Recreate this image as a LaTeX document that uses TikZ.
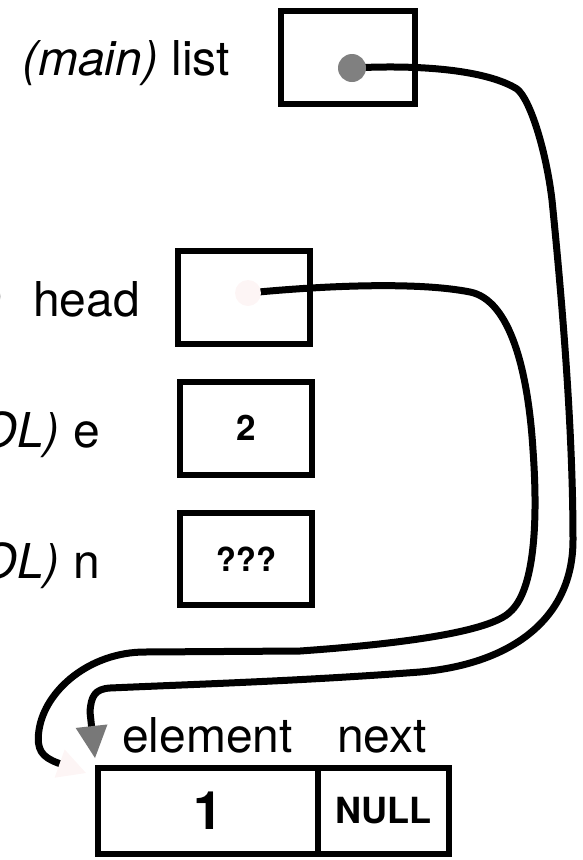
\documentclass[tikz,border=0pt]{standalone}
\usepackage{fontspec}
\setmainfont{TeX Gyre Heros}
\usetikzlibrary{arrows.meta}
\definecolor{dotgray}{gray}{0.5}
\definecolor{tipgray}{gray}{0.47}
\definecolor{faint}{RGB}{253,245,245}
\begin{document}
\begin{tikzpicture}[x=1pt,y=-1pt,
  cell/.style={draw=black,line width=6pt,inner sep=0pt,minimum height=93pt},
  lbl/.style={font=\fontsize{48}{56}\selectfont,inner sep=0pt,anchor=base east},
  fieldlbl/.style={font=\fontsize{48}{56}\selectfont,inner sep=0pt,anchor=base west},
  ptr/.style={line width=7pt,line cap=round,line join=round},
  val/.style={font=\bfseries\fontsize{35}{40}\selectfont},
  dotmark/.style={circle,inner sep=0pt,draw=none}]
\useasboundingbox (0,0) rectangle (582,860);
\coordinate (ldot) at (352,68);
\coordinate (hdot) at (248,293);
\coordinate (etip) at (95,758);
\coordinate (hend) at (86,773);
% list pointer
\draw[ptr,-{Triangle[width=32pt,length=32pt,line width=0pt,color=tipgray]}]
  (ldot) .. controls (430,64) and (490,72) .. (517,89)
  .. controls (530,99) and (546,150) .. (552,200)
  .. controls (560,280) and (573,420) .. (573,540)
  .. controls (573,620) and (510,664) .. (420,672)
  .. controls (300,681) and (200,684) .. (110,688)
  .. controls (95,689) and (91,696) .. (90,712)
  -- (etip);
% head pointer
\draw[ptr,-{Triangle[width=30pt,length=28pt,line width=0pt,color=faint]}]
  (hdot) .. controls (330,285) and (420,282) .. (470,292)
  .. controls (510,300) and (528,370) .. (533,450)
  .. controls (538,520) and (535,590) .. (510,612)
  .. controls (490,632) and (400,644) .. (300,651)
  -- (145,652)
  .. controls (90,652) and (45,690) .. (39,730)
  .. controls (36,750) and (42,757) .. (58,763)
  -- (hend);
\node[dotmark,fill=dotgray,minimum size=28pt] (ldotmark) at (ldot) {};
\node[dotmark,fill=faint,minimum size=26pt] (hdotmark) at (hdot) {};
% boxes
\node[cell,minimum width=134pt] (listbox) at (348,57.5) {};
\node[cell,minimum width=132pt] (headbox) at (244,297.5) {};
\node[cell,minimum width=132pt,val] (ebox) at (246,428) {2};
\node[cell,minimum width=132pt,minimum height=92pt,font=\bfseries\fontsize{33}{38}\selectfont] (nbox) at (246,559) {???};
\node[cell,minimum width=220pt,minimum height=86pt,font=\bfseries\fontsize{53}{60}\selectfont] (elem) at (208,811) {1};
\node[cell,minimum width=131pt,minimum height=86pt,font=\bfseries\fontsize{36}{42}\selectfont] (nextcell) at (383.5,811) {NULL};
% labels
\node[lbl] (mainlbl) at (230,75) {\textit{(main)} list};
\node[lbl] (headlbl) at (140,316) {\llap{\textit{)}\hspace{30pt}}head};
\node[lbl] (elbl) at (100,447) {\textit{OL)} e};
\node[lbl] (nlbl) at (100,578) {\textit{OL)} n};
\node[fieldlbl] (elemlbl) at (122,752) {element};
\node[fieldlbl] (nextlbl) at (337,752) {next};
\end{tikzpicture}
\end{document}
